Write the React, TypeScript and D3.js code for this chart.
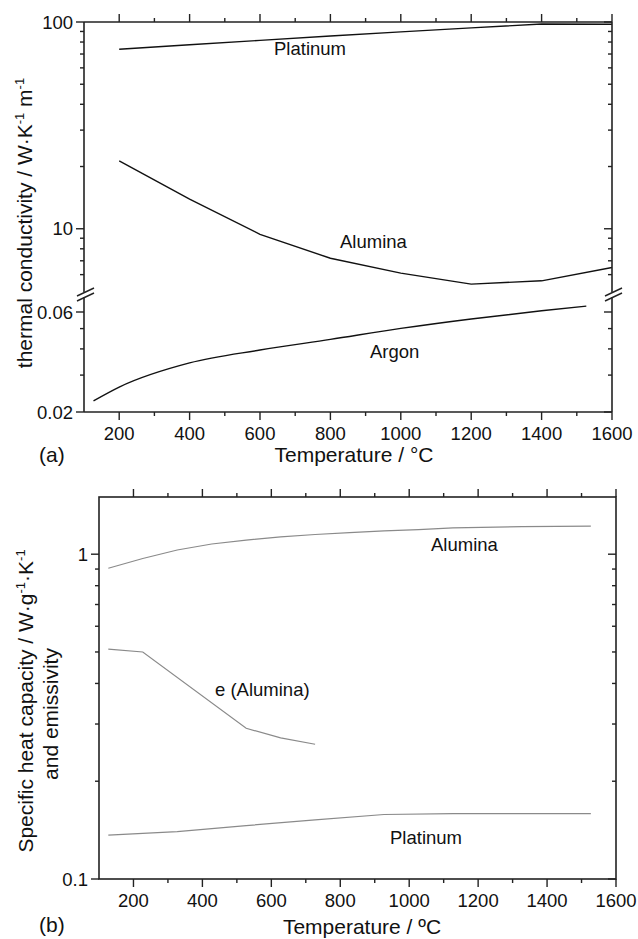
import React from 'react';
import * as d3 from 'd3';

// panel (a): thermal conductivity
const temps = [200, 400, 600, 800, 1000, 1200, 1400, 1600];
const platinumK = [73.8, 77.6, 81.5, 85.5, 89.6, 93.7, 97.8, 97.5];
const aluminaK = [21.3, 13.9, 9.4, 7.2, 6.1, 5.4, 5.6, 6.5];
const argonT = [127, 200, 400, 600, 800, 1000, 1200, 1400, 1527];
const argonK = [0.0226, 0.0263, 0.0343, 0.0395, 0.0444, 0.0501, 0.0556, 0.0608, 0.064];

// panel (b): specific heat capacity and emissivity
const cpT = [127, 227, 327, 427, 527, 627, 727, 827, 927, 1027, 1127, 1327, 1527];
const aluminaCp = [0.905, 0.97, 1.03, 1.075, 1.105, 1.13, 1.15, 1.165, 1.18, 1.19, 1.205, 1.215, 1.22];
const platinumCpT = [127, 327, 527, 727, 927, 1127, 1327, 1527];
const platinumCp = [0.1365, 0.14, 0.146, 0.152, 0.158, 0.159, 0.159, 0.159];
const emisT = [127, 227, 527, 627, 727];
const emisAlumina = [0.51, 0.5, 0.291, 0.272, 0.26];

const majorX = [200, 400, 600, 800, 1000, 1200, 1400, 1600];
const minorX = [300, 500, 700, 900, 1100, 1300, 1500];
const upperTicks = [6, 7, 8, 9, 10, 20, 30, 40, 50, 60, 70, 80, 90, 100];
const upperLabels = [10, 100];
const lowerTicks = [0.02, 0.03, 0.04, 0.05, 0.06];
const lowerLabels = [0.02, 0.06];
const bTicks = [0.1, 0.2, 0.3, 0.4, 0.5, 0.6, 0.7, 0.8, 0.9, 1];
const bLabels = [0.1, 1];

const font = 'Liberation Sans, Arial, sans-serif';
const AX = '#222';

function XAxes({ x, top, bottom }: any) {
  return (
    <g stroke={AX} strokeWidth={1.4}>
      {majorX.map(t => (
        <g key={'M' + t}>
          <line x1={x(t)} x2={x(t)} y1={bottom} y2={bottom + 8} />
          <line x1={x(t)} x2={x(t)} y1={top} y2={top - 8} />
        </g>
      ))}
      {minorX.map(t => (
        <g key={'m' + t}>
          <line x1={x(t)} x2={x(t)} y1={bottom} y2={bottom + 4} />
          <line x1={x(t)} x2={x(t)} y1={top} y2={top - 4} />
        </g>
      ))}
      <g stroke="none" fill="#111" fontSize={18.5} textAnchor="middle">
        {majorX.map(t => (
          <text key={'l' + t} x={x(t)} y={bottom + 28}>{t}</text>
        ))}
      </g>
    </g>
  );
}

function YTicks({ y, ticks, labels, left, right, fmt }: any) {
  return (
    <g stroke={AX} strokeWidth={1.4}>
      {ticks.map((t: number) => {
        const major = labels.includes(t);
        const len = major ? 8 : 4;
        return (
          <g key={t}>
            <line x1={left} x2={left - len} y1={y(t)} y2={y(t)} />
            <line x1={right} x2={right - len} y1={y(t)} y2={y(t)} />
          </g>
        );
      })}
      <g stroke="none" fill="#111" fontSize={18.5} textAnchor="end">
        {labels.map((t: number) => (
          <text key={'l' + t} x={left - 11} y={y(t) + 6.5}>{fmt(t)}</text>
        ))}
      </g>
    </g>
  );
}

export default function App() {
  // panel (a) geometry
  const aL = 84, aR = 612, aT = 22, aB = 412;
  const xa = d3.scaleLinear().domain([100, 1600]).range([aL, aR]);
  const yUp = d3.scaleLog().domain([5, 100]).range([291, aT]);
  const yLo = d3.scaleLog().domain([0.02, 0.06]).range([aB, 312]);

  const lineUp = d3.line<number>().x((d, i) => xa(temps[i])).y(d => yUp(d));
  const lineAr = d3.line<number>().x((d, i) => xa(argonT[i])).y(d => yLo(d)).curve(d3.curveMonotoneX);

  // panel (b) geometry
  const bL = 99, bR = 616, bT = 497, bB = 879;
  const xb = d3.scaleLinear().domain([100, 1600]).range([bL, bR]);
  const yb = d3.scaleLog().domain([0.1, 1.5]).range([bB, bT]);
  const mk = (ts: number[]) => d3.line<number>().x((d, i) => xb(ts[i])).y(d => yb(d));

  const breakMarks = (cx: number) => (
    <g>
      <polygon points={`${cx - 8},${295} ${cx + 9},${288} ${cx + 9},${293} ${cx - 8},${300}`} fill="#fff" />
      <line x1={cx - 8} y1={296} x2={cx + 9} y2={288} stroke={AX} strokeWidth={1.4} />
      <line x1={cx - 8} y1={301} x2={cx + 9} y2={293} stroke={AX} strokeWidth={1.4} />
    </g>
  );

  return (
    <svg width={638} height={939} style={{ position: 'absolute', left: 0, top: 0, background: '#fff' }} fontFamily={font}>
      {/* ---------- (a) ---------- */}
      <g fill="none">
        <path d={lineUp(platinumK) || ''} stroke="#111" strokeWidth={1.4} />
        <path d={lineUp(aluminaK) || ''} stroke="#111" strokeWidth={1.4} />
        <path d={lineAr(argonK) || ''} stroke="#111" strokeWidth={1.4} />
      </g>
      <g stroke={AX} strokeWidth={1.6}>
        <line x1={aL} x2={aR} y1={aT} y2={aT} />
        <line x1={aL} x2={aR} y1={aB} y2={aB} />
        <line x1={aL} x2={aL} y1={aT} y2={292} />
        <line x1={aL} x2={aL} y1={297} y2={aB} />
        <line x1={aR} x2={aR} y1={aT} y2={292} />
        <line x1={aR} x2={aR} y1={297} y2={aB} />
      </g>
      <XAxes x={xa} top={aT} bottom={aB} />
      <YTicks y={yUp} ticks={upperTicks} labels={upperLabels} left={aL} right={aR} fmt={(t: number) => String(t)} />
      <YTicks y={yLo} ticks={lowerTicks} labels={lowerLabels} left={aL} right={aR} fmt={(t: number) => t.toFixed(2)} />
      {breakMarks(aL + 1)}
      {breakMarks(aR + 1)}
      <g fill="#111" fontSize={18.5}>
        <text x={274} y={55}>Platinum</text>
        <text x={340} y={248}>Alumina</text>
        <text x={370} y={358}>Argon</text>
      </g>
      <text x={354} y={462} fontSize={21} textAnchor="middle" fill="#111">Temperature / °C</text>
      <text x={39} y={462} fontSize={21} fill="#111">(a)</text>
      <text transform="translate(32,223) rotate(-90)" fontSize={21} textAnchor="middle" fill="#111">
        thermal conductivity / W·K<tspan fontSize={13} dy={-8}>-1</tspan><tspan dy={8}> m</tspan><tspan fontSize={13} dy={-8}>-1</tspan>
      </text>

      {/* ---------- (b) ---------- */}
      <g fill="none" stroke="#8a8a8a" strokeWidth={1.2}>
        <path d={mk(cpT)(aluminaCp) || ''} />
        <path d={mk(emisT)(emisAlumina) || ''} />
        <path d={mk(platinumCpT)(platinumCp) || ''} />
      </g>
      <g stroke={AX} strokeWidth={1.6} fill="none">
        <rect x={bL} y={bT} width={bR - bL} height={bB - bT} />
      </g>
      <XAxes x={xb} top={bT} bottom={bB} />
      <YTicks y={yb} ticks={bTicks} labels={bLabels} left={bL} right={bR} fmt={(t: number) => String(t)} />
      <g fill="#111" fontSize={18.5}>
        <text x={431} y={551}>Alumina</text>
        <text x={215} y={696}>e (Alumina)</text>
        <text x={390} y={844}>Platinum</text>
      </g>
      <text x={362} y={934} fontSize={21} textAnchor="middle" fill="#111">Temperature / ºC</text>
      <text x={39} y={932} fontSize={21} fill="#111">(b)</text>
      <text transform="translate(33,701) rotate(-90)" fontSize={21} textAnchor="middle" fill="#111">
        Specific heat capacity / W·g<tspan fontSize={13} dy={-8}>-1</tspan><tspan dy={8}>·K</tspan><tspan fontSize={13} dy={-8}>-1</tspan>
      </text>
      <text transform="translate(58,714) rotate(-90)" fontSize={21} textAnchor="middle" fill="#111">and emissivity</text>
    </svg>
  );
}
